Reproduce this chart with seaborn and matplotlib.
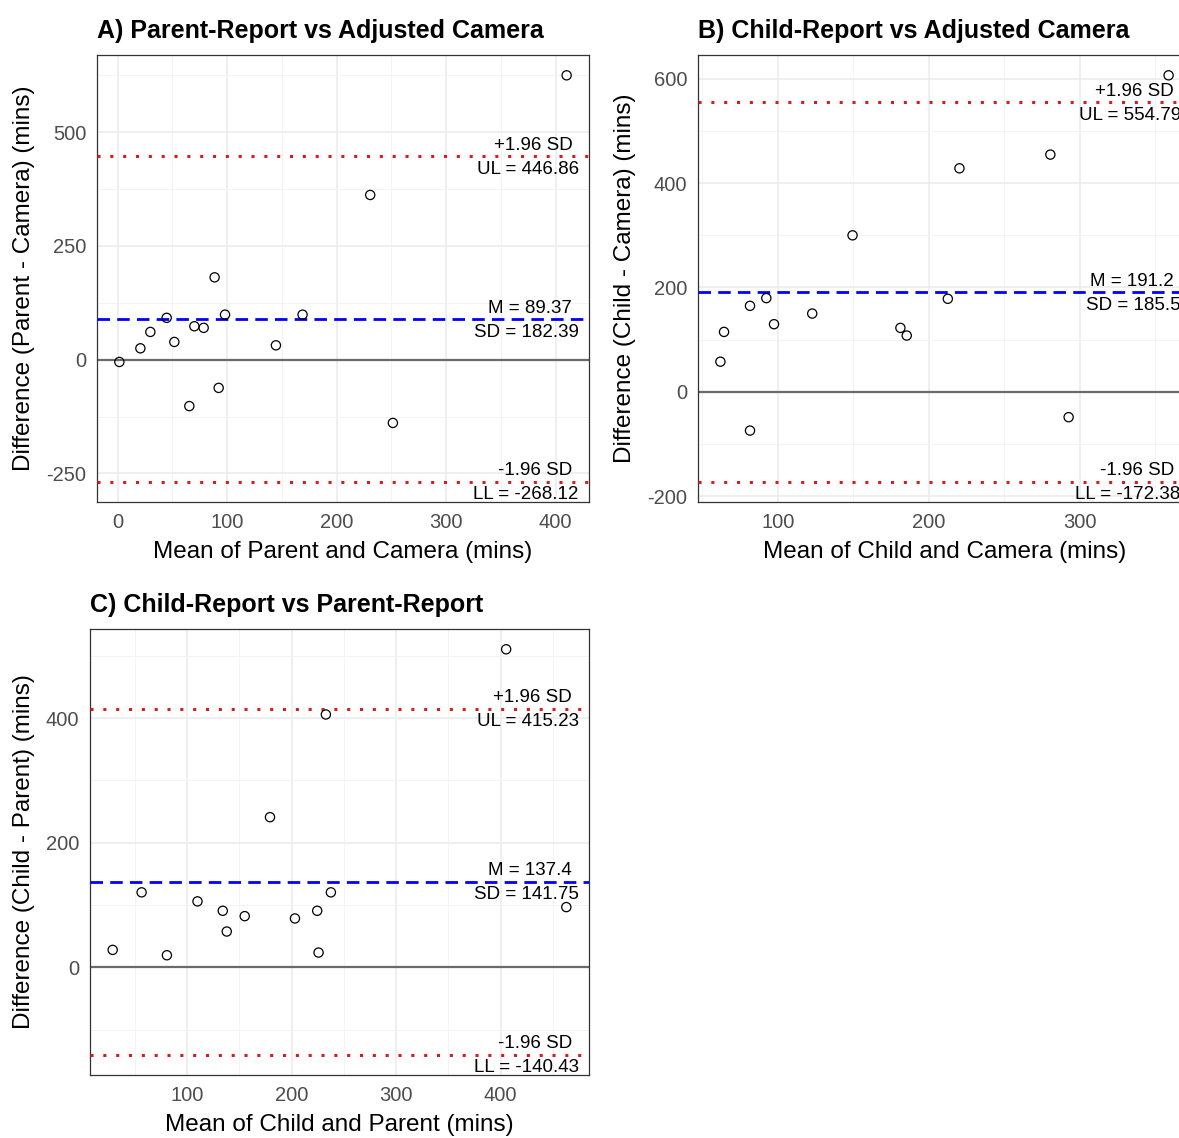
import matplotlib
matplotlib.use("Agg")
import matplotlib.pyplot as plt
import pandas as pd
import seaborn as sns

# Panel A: parent report vs adjusted camera
a_mean = [1.5, 20.7, 29.8, 44.7, 51.7, 70, 78.5, 88.5, 92.2, 65.4, 98, 144.5, 168.8, 230.6, 251.3, 410]
a_diff = [-5, 25, 61, 92, 39, 73.5, 70, 181, -62, -102, 99, 31.6, 99, 362, -139, 625]
a_stats = [89.37, 182.39, 446.86, -268.12]  # M, SD, UL, LL

# Panel B: child report vs adjusted camera
b_mean = [61.9, 64.3, 81.5, 81.5, 92.3, 97.4, 122.7, 149.4, 181.1, 185.3, 212.5, 220.2, 280.4, 292.5, 358.7]
b_diff = [57.7, 114.8, 164.8, -74.4, 179.6, 129.6, 150, 300, 122.5, 107.8, 178.3, 428.5, 454.8, -48.7, 606.8]
b_stats = [191.2, 185.5, 554.79, -172.38]

# Panel C: child report vs parent report
c_mean = [28.7, 56.4, 80.6, 109.9, 134.1, 137.9, 155.1, 179.3, 203.2, 224.5, 225.8, 237.6, 232.8, 405.4, 463]
c_diff = [27.9, 120.3, 19.3, 105.8, 90.7, 57.4, 82.1, 241, 78.4, 90.7, 23.6, 120.3, 405.9, 510.6, 96.6]
c_stats = [137.4, 141.75, 415.23, -140.43]

titles = ["A) Parent-Report vs Adjusted Camera",
          "B) Child-Report vs Adjusted Camera",
          "C) Child-Report vs Parent-Report"]
xlabels = ["Mean of Parent and Camera (mins)",
           "Mean of Child and Camera (mins)",
           "Mean of Child and Parent (mins)"]
ylabels = ["Difference (Parent - Camera) (mins)",
           "Difference (Child - Camera) (mins)",
           "Difference (Child - Parent) (mins)"]
xticks = [[0, 100, 200, 300, 400], [100, 200, 300], [100, 200, 300, 400]]
yticks = [[-250, 0, 250, 500], [-200, 0, 200, 400, 600], [0, 200, 400]]

sns.set_style("whitegrid")
plt.rcParams["font.family"] = ["Liberation Sans", "DejaVu Sans"]
plt.rcParams["axes.unicode_minus"] = False
plt.rcParams["text.color"] = "black"
plt.rcParams["axes.labelcolor"] = "black"
plt.rcParams["axes.titlecolor"] = "black"

W, H = 1179, 1138
fig = plt.figure(figsize=(W / 100, H / 100), dpi=100)


def add_px_axes(left, top, right, bottom):
    return fig.add_axes([left / W, 1 - bottom / H, (right - left) / W, (bottom - top) / H])


def expand(lo, hi, frac=0.05):
    span = hi - lo
    return lo - frac * span, hi + frac * span


def bland_altman(ax, mean, diff, stats, i, ylab_x):
    m, sd, ul, ll = stats
    df = pd.DataFrame({"mean": mean, "diff": diff})

    ax.axhline(0, color="#6A6A6A", lw=1.6, zorder=2)
    ax.axhline(m, color="#0000FF", lw=2.0, dashes=(4.5, 2.6), zorder=3)
    for v in (ul, ll):
        ax.axhline(v, color="#D81B1B", lw=2.2, dashes=(1.0, 3.2), zorder=3)
    sns.scatterplot(data=df, x="mean", y="diff", ax=ax, marker="o", s=44,
                    color="black", facecolors="none", edgecolor="black",
                    linewidth=0.9, zorder=4)

    xt, yt = xticks[i], yticks[i]
    ax.set_xticks(xt)
    ax.set_yticks(yt)
    ax.set_xticks([t + (xt[1] - xt[0]) / 2 for t in [xt[0] - (xt[1] - xt[0])] + xt], minor=True)
    ax.set_yticks([t + (yt[1] - yt[0]) / 2 for t in [yt[0] - (yt[1] - yt[0])] + yt], minor=True)
    ax.set_xlim(*expand(min(mean), max(mean)))
    ax.set_ylim(*expand(min(min(diff), ll), max(max(diff), ul)))

    ax.grid(which="major", color="#EBEBEB", lw=1.1)
    ax.grid(which="minor", color="#F3F3F3", lw=0.6)
    ax.set_axisbelow(True)
    for s in ax.spines.values():
        s.set_color("#333333")
        s.set_linewidth(0.9)
        s.set_visible(True)
    ax.tick_params(which="major", length=3.6, width=0.9, color="#333333",
                   labelsize=14.5, labelcolor="#4D4D4D", pad=4)
    ax.tick_params(which="minor", length=0)

    # limit of agreement labels
    tr = ax.get_yaxis_transform()
    up_txt = ["+1.96 SD", f"M = {m}", "-1.96 SD"]
    lo_txt = [f"UL = {ul}", f"SD = {sd}", f"LL = {ll}"]
    for v, t1, t2 in zip([ul, m, ll], up_txt, lo_txt):
        ax.annotate(t1, xy=(0.966, v), xycoords=tr, xytext=(0, 4.6),
                    textcoords="offset points", ha="right", va="baseline",
                    fontsize=13.5, color="black")
        ax.annotate(t2, xy=(0.979, v), xycoords=tr, xytext=(0, -3.4),
                    textcoords="offset points", ha="right", va="top",
                    fontsize=13.5, color="black")

    ax.set_title(titles[i], loc="left", fontsize=18, fontweight="bold", pad=12)
    ax.set_xlabel(xlabels[i], fontsize=17.5, va="center")
    ax.set_ylabel(ylabels[i], fontsize=17.5, va="center")
    ax.xaxis.set_label_coords(0.5, -0.112)
    ax.yaxis.set_label_coords(ylab_x, 0.5)


ax_a = add_px_axes(97, 55, 589, 502)
ax_b = add_px_axes(698, 55, 1191, 502)
ax_c = add_px_axes(90, 629, 589, 1075)

bland_altman(ax_a, a_mean, a_diff, a_stats, 0, (24 - 97) / 492)
bland_altman(ax_b, b_mean, b_diff, b_stats, 1, (625 - 698) / 493)
bland_altman(ax_c, c_mean, c_diff, c_stats, 2, (24 - 90) / 499)

fig.savefig("out.png", dpi=100, facecolor="white")
